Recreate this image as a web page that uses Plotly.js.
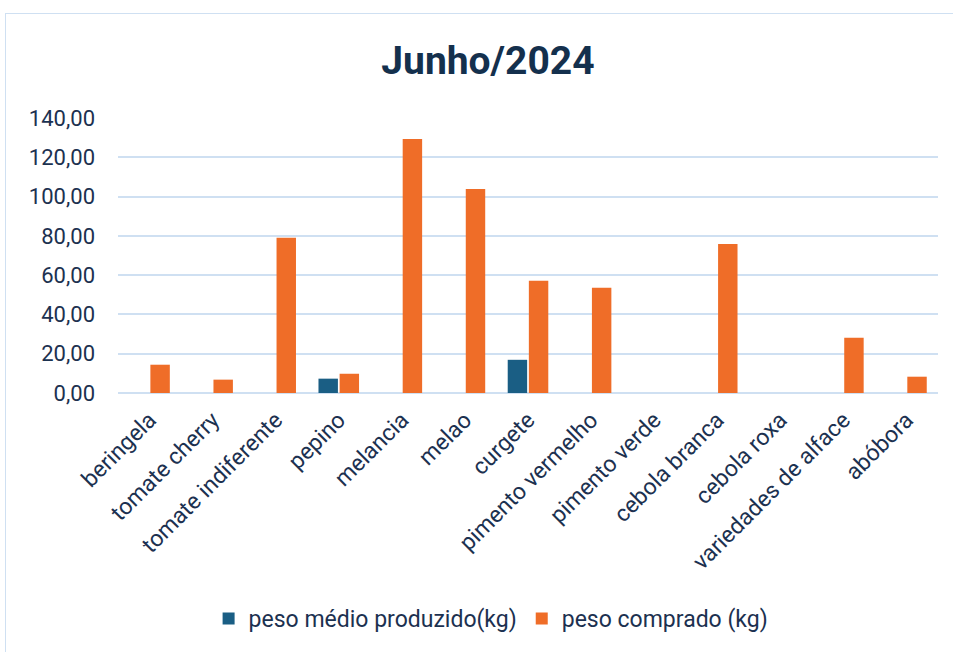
<!DOCTYPE html>
<html><head><meta charset="utf-8">
<script src="https://cdn.plot.ly/plotly-3.0.1.min.js"></script>
<style>
html,body{margin:0;padding:0;background:#fff;overflow:hidden;}
#frame{position:absolute;left:5px;top:13px;width:960px;height:640px;border:1px solid #cfe0f2;box-sizing:border-box;}
#chart{position:absolute;left:0;top:0;width:953px;height:652px;}
</style></head>
<body>
<div id="frame"></div>
<div id="chart"></div>
<script>
const categories = ["beringela","tomate cherry","tomate indiferente","pepino","melancia","melao","curgete","pimento vermelho","pimento verde","cebola branca","cebola roxa","variedades de alface","abóbora"];
const pesoProduzido = [null,null,null,7.3,null,null,16.9,null,null,null,null,null,null];
const pesoComprado = [14.4,6.8,79.0,9.8,129.3,103.9,57.1,53.6,null,75.9,null,28.1,8.3];
const seriesNames = ["peso médio produzido(kg)","peso comprado (kg)"];

const font = "Roboto, 'Noto Sans', sans-serif";
const txt = "#1c3150";
const data = [
  {type:'bar', x:categories, y:pesoProduzido, name:seriesNames[0], marker:{color:'#1a5e84'}},
  {type:'bar', x:categories, y:pesoComprado, name:seriesNames[1], marker:{color:'#ef6d28'}}
];
const layout = {
  width:953, height:652,
  paper_bgcolor:'rgba(0,0,0,0)', plot_bgcolor:'rgba(0,0,0,0)',
  margin:{l:118, r:15, t:118, b:259},
  separators:',.',
  title:{text:'<b>Junho/2024</b>', x:0.512, xanchor:'center', y:0.908, yanchor:'middle',
         font:{family:"'Liberation Sans Narrow', Roboto, sans-serif", size:39, color:'#14304d', weight:600}},
  barmode:'group', bargap:0.33, bargroupgap:0.08,
  xaxis:{tickangle:-45, tickfont:{family:font, size:23, color:txt}, showgrid:false, showline:false, ticks:'', automargin:false, ticklabelstandoff:8},
  yaxis:{range:[0,140], dtick:20, tickformat:'.2f', tickfont:{family:font, size:22, color:txt},
         gridcolor:'#cfe0f2', gridwidth:2, zeroline:true, zerolinecolor:'#cfe0f2', zerolinewidth:2,
         ticks:'', ticklabelstandoff:22, automargin:false},
  legend:{orientation:'h', x:0.455, xanchor:'center', y:-0.82, yanchor:'middle',
          font:{family:font, size:23, color:txt}, itemwidth:30, traceorder:'normal'},
  showlegend:true
};
Plotly.newPlot('chart', data, layout, {displayModeBar:false, staticPlot:true});
</script>
</body></html>
